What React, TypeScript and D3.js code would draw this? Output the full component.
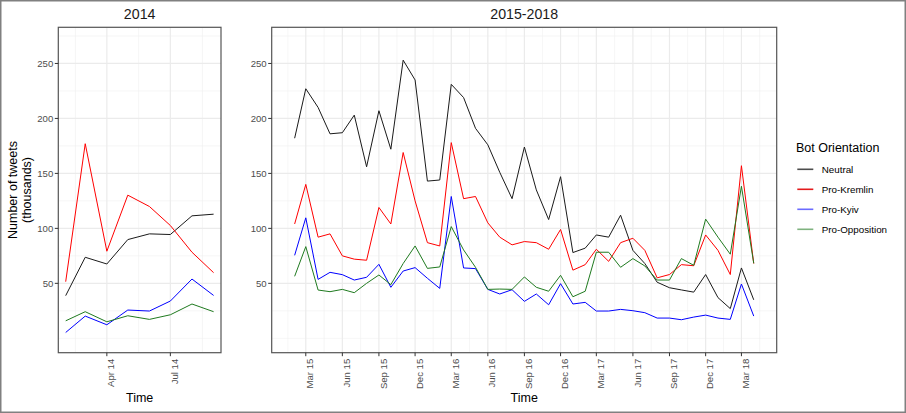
import * as d3 from 'd3';

// monthly data, values in thousands of tweets
const series = ['Neutral', 'Pro-Kremlin', 'Pro-Kyiv', 'Pro-Opposition'];
const colors = ['#1a1a1a', '#ff0000', '#0000ff', '#1f7a1f'];
const legendColors = ['#4d4d4d', '#e31a1c', '#6b6bff', '#7fb27f'];

const months2014 = d3.timeMonth.range(new Date(2014, 1, 1), new Date(2014, 9, 1));
const neutral2014 = [38.8, 73.7, 67.6, 89.8, 95, 94.4, 111.4, 112.9];
const kremlin2014 = [51.5, 177, 79.2, 130.2, 119.9, 102.6, 78.3, 59.7];
const kyiv2014 = [5.3, 20.2, 12.3, 25.7, 24.8, 33.9, 53.9, 39];
const opposition2014 = [15.9, 24.2, 15.0, 20.5, 17.2, 21.4, 31.2, 24.2];

const months1518 = d3.timeMonth.range(new Date(2015, 1, 1), new Date(2018, 4, 1));
const neutral1518 = [182, 227, 210, 186, 187, 203, 156, 207, 172, 253, 235,
  143, 144, 231, 219, 191, 176, 151, 127, 174, 135, 108, 147,
  78, 82, 94, 92, 112, 80, 68, 51, 46, 44, 42, 58,
  37, 27, 64, 35];
const kremlin1518 = [104, 140, 92, 95, 75, 72, 71, 119, 104, 169, 125,
  87, 84, 178, 127, 129, 105, 92, 85, 88, 87, 81, 99,
  62, 67, 81, 70, 87, 91, 80, 55, 58, 67, 66, 94,
  80, 58, 157, 68];
const kyiv1518 = [75.5, 109.6, 53.6, 60, 57.9, 53, 55.5, 67.3, 46.4, 61.2, 64.3,
  54.6, 45.4, 129, 64, 63.4, 44.5, 40.3, 44.2, 33.6, 40.3, 30.5, 49.7,
  31.2, 32.7, 24.8, 24.8, 26.3, 25.1, 23.3, 18.4, 18.4, 16.9, 19.3, 21.1,
  18.4, 17.2, 49.4, 20.2];
const opposition1518 = [56.4, 83.4, 43.9, 42.4, 44.5, 41.5, 50, 57.6, 48.8, 68, 84,
  63.6, 64.9, 101.6, 80.4, 64.6, 44.5, 44.8, 44.5, 55.8, 46.4, 42.8, 57.3,
  37.8, 42.8, 78.3, 78.3, 64.6, 72.5, 65.8, 53, 53, 72.5, 66.4, 108.4,
  92, 76.5, 138.3, 68.2];

const ticks2014 = ['2014-01', '2014-04', '2014-07', '2014-10'];
const ticks1518 = ['2014-12', '2015-03', '2015-06', '2015-09', '2015-12', '2016-03', '2016-06',
  '2016-09', '2016-12', '2017-03', '2017-06', '2017-09', '2017-12', '2018-03', '2018-06'];
const yTicks = [50, 100, 150, 200, 250];
const yMinor = [0, 25, 75, 125, 175, 225, 275];

const font = '"Liberation Sans", Arial, Helvetica, sans-serif';
const top = 27.3;
const bottom = 352.7;
const parseMonth = d3.timeParse('%Y-%m');
const fmt = d3.timeFormat('%b %y');

const y = d3.scaleLinear().domain([-13.1, 282.9]).range([bottom, top]);

function Panel({ title, x0, x1, months, values, ticks }: any) {
  const ext = d3.extent(months) as [Date, Date];
  const span = +ext[1] - +ext[0];
  const x = d3.scaleTime()
    .domain([new Date(+ext[0] - span * 0.05), new Date(+ext[1] + span * 0.05)])
    .range([x0, x1]);
  const majors: Date[] = ticks.map((t: string) => parseMonth(t) as Date);
  const minors: Date[] = d3.pairs(majors).map(([a, b]) => new Date((+a + +b) / 2));
  const inside = (d: Date) => x(d) >= x0 && x(d) <= x1;
  const line = d3.line<number>()
    .x((_, i) => x(months[i]))
    .y(d => y(d));
  return (
    <g>
      {yMinor.map(v => (
        <line key={'ym' + v} x1={x0} x2={x1} y1={y(v)} y2={y(v)} stroke="#f0f0f0" strokeWidth={0.6} />
      ))}
      {minors.filter(inside).map((d, i) => (
        <line key={'xm' + i} x1={x(d)} x2={x(d)} y1={top} y2={bottom} stroke="#f0f0f0" strokeWidth={0.6} />
      ))}
      {yTicks.map(v => (
        <line key={'yM' + v} x1={x0} x2={x1} y1={y(v)} y2={y(v)} stroke="#ebebeb" strokeWidth={1.2} />
      ))}
      {majors.filter(inside).map((d, i) => (
        <line key={'xM' + i} x1={x(d)} x2={x(d)} y1={top} y2={bottom} stroke="#ebebeb" strokeWidth={1.2} />
      ))}
      {values.map((vals: number[], s: number) => (
        <path key={series[s]} d={line(vals) as string} fill="none" stroke={colors[s]} strokeWidth={1} />
      ))}
      <rect x={x0} y={top} width={x1 - x0} height={bottom - top} fill="none" stroke="#555" strokeWidth={1.2} />
      {yTicks.map(v => (
        <g key={'yl' + v}>
          <line x1={x0 - 3.5} x2={x0} y1={y(v)} y2={y(v)} stroke="#333" strokeWidth={1} />
          <text x={x0 - 5} y={y(v)} dy="0.35em" textAnchor="end" fontSize={9.6} fill="#4d4d4d">{v}</text>
        </g>
      ))}
      {majors.filter(inside).map((d, i) => (
        <g key={'xl' + i}>
          <line x1={x(d)} x2={x(d)} y1={bottom} y2={bottom + 3.5} stroke="#333" strokeWidth={1} />
          <text transform={`translate(${x(d) + 7.6},${bottom + 6}) rotate(-90)`} textAnchor="end"
            fontSize={9.6} fill="#4d4d4d">{fmt(d)}</text>
        </g>
      ))}
      <text x={(x0 + x1) / 2} y={18.5} textAnchor="middle" fontSize={14.2} fill="#1a1a1a">{title}</text>
      <text x={(x0 + x1) / 2} y={401.5} textAnchor="middle" fontSize={12.5} fill="#000">Time</text>
    </g>
  );
}

export default function App() {
  return (
    <svg width={906} height={413} style={{ position: 'absolute', left: 0, top: 0, fontFamily: font }}>
      <rect x={0} y={0} width={906} height={413} fill="#fff" />
      <rect x={0.75} y={0.75} width={904.5} height={411.5} fill="none" stroke="#808080" strokeWidth={1.5} />
      <Panel title="2014" x0={58.3} x1={221} months={months2014}
        values={[neutral2014, kremlin2014, kyiv2014, opposition2014]} ticks={ticks2014} />
      <Panel title="2015-2018" x0={271.7} x1={776.7} months={months1518}
        values={[neutral1518, kremlin1518, kyiv1518, opposition1518]} ticks={ticks1518} />
      <text transform={`translate(16.8,${(top + bottom) / 2}) rotate(-90)`} textAnchor="middle" fontSize={12.5}>
        Number of tweets
      </text>
      <text transform={`translate(30.6,${(top + bottom) / 2}) rotate(-90)`} textAnchor="middle" fontSize={12.5}>
        (thousands)
      </text>
      <text x={796} y={151.7} fontSize={12.5}>Bot Orientation</text>
      {series.map((s, i) => (
        <g key={s} transform={`translate(0,${169.3 + i * 20})`}>
          <line x1={797.3} x2={813.3} y1={0} y2={0} stroke={legendColors[i]} strokeWidth={1.6} />
          <text x={821.7} y={0} dy="0.35em" fontSize={9.8}>{s}</text>
        </g>
      ))}
    </svg>
  );
}
